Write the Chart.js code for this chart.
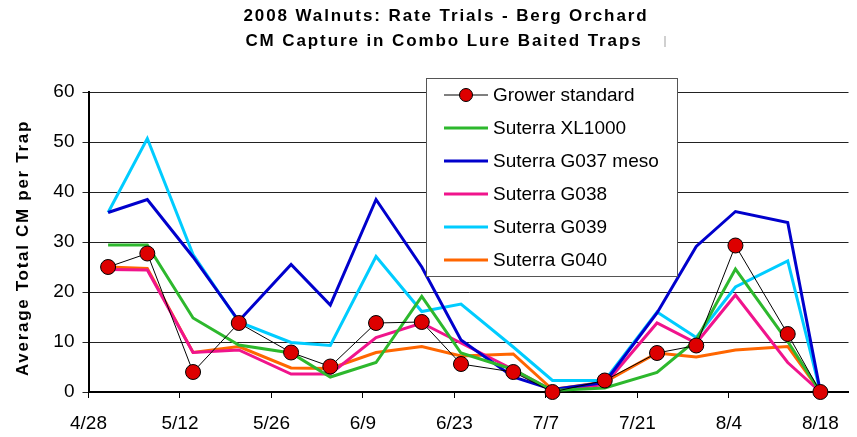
<!DOCTYPE html>
<html>
<head>
<meta charset="utf-8">
<script src="https://cdn.jsdelivr.net/npm/chart.js@4"></script>
<style>
  html, body { margin: 0; padding: 0; background: #fff; }
  #wrap { width: 857px; height: 437px; }
</style>
</head>
<body>
<div id="wrap"><canvas id="chart"></canvas></div>
<script>
// Sample dates and trap counts
const dates = ["5/1", "5/7", "5/14", "5/21", "5/29", "6/4", "6/11", "6/18", "6/24", "7/2", "7/8", "7/16", "7/24", "7/30", "8/5", "8/13", "8/18"];
const grower = [25, 27.7, 4, 13.8, 7.9, 5.1, 13.8, 14, 5.6, 4, 0, 2.3, 7.8, 9.3, 29.3, 11.6, 0];
const xl1000 = [29.4, 29.4, 14.8, 9.4, 7.8, 3, 5.9, 19.1, 7.8, 4.5, 0.3, 0.8, 3.9, 10.4, 24.6, 10.1, 0];
const g037 = [35.9, 38.5, 27, 14.2, 25.5, 17.4, 38.5, 25, 10.4, 3, 0.5, 1.9, 15.8, 29.1, 36.1, 33.9, 0];
const g038 = [24.5, 24.4, 7.9, 8.4, 3.6, 3.6, 10.9, 13.8, 9.8, 4.5, 0.3, 1.5, 13.8, 9.8, 19.4, 5.9, 0];
const g039 = [35.9, 50.7, 27.5, 14, 9.9, 9.3, 27.1, 16.1, 17.6, 9, 2.3, 2.3, 16, 10.9, 21, 26.2, 0];
const g040 = [25, 24.7, 7.9, 9.1, 4.8, 4.7, 7.9, 9.1, 7.2, 7.6, 0.5, 2, 7.8, 7, 8.4, 9.1, 0];
const yTicks = [0, 10, 20, 30, 40, 50, 60];

// days since 4/28/2008
const start = new Date(2008, 3, 28);
const toDay = s => {
  const [m, d] = s.split("/").map(Number);
  return Math.round((new Date(2008, m - 1, d) - start) / 86400000);
};
const days = dates.map(toDay);
const pts = arr => arr.map((v, i) => ({ x: days[i], y: v }));

const line = (label, data, color) => ({
  label, data: pts(data), borderColor: color, backgroundColor: color,
  borderWidth: 3, pointRadius: 0, pointHoverRadius: 0, tension: 0, clip: false
});

// Title, axis title and boxed legend
const decor = {
  id: "decor",
  afterDraw(chart) {
    const ctx = chart.ctx;
    ctx.save();
    ctx.fillStyle = "#000";
    ctx.textAlign = "center";
    ctx.textBaseline = "alphabetic";
    ctx.font = "bold 17px 'Liberation Sans', Arial, sans-serif";
    ctx.letterSpacing = "1.9px";
    ctx.fillText("2008 Walnuts: Rate Trials - Berg Orchard", 446, 21);
    ctx.fillText("CM Capture in Combo Lure Baited Traps", 444, 45.5);
    ctx.fillStyle = "#d0d0d0";
    ctx.fillRect(664, 36, 2, 11);

    ctx.fillStyle = "#000";
    ctx.translate(23, 248);
    ctx.rotate(-Math.PI / 2);
    ctx.textBaseline = "middle";
    ctx.font = "bold 17px 'Liberation Sans', Arial, sans-serif";
    ctx.letterSpacing = "1.7px";
    ctx.fillText("Average Total CM per Trap", 0, 0);
    ctx.restore();

    // legend
    ctx.save();
    const bx = 426.5, by = 78.5, bw = 251, bh = 198;
    ctx.fillStyle = "#fff";
    ctx.fillRect(bx, by, bw, bh);
    ctx.strokeStyle = "#555";
    ctx.lineWidth = 1;
    ctx.strokeRect(bx, by, bw, bh);
    ctx.font = "19px 'Liberation Sans', Arial, sans-serif";
    ctx.textBaseline = "middle";
    ctx.textAlign = "left";
    chart.data.datasets.forEach((ds, i) => {
      const y = 95 + i * 33;
      ctx.strokeStyle = ds.borderColor;
      ctx.lineWidth = ds.borderWidth;
      ctx.beginPath();
      ctx.moveTo(444, y);
      ctx.lineTo(488, y);
      ctx.stroke();
      if (ds.pointRadius > 0) {
        ctx.beginPath();
        ctx.arc(466, y, 6.5, 0, Math.PI * 2);
        ctx.fillStyle = ds.pointBackgroundColor;
        ctx.fill();
        ctx.strokeStyle = "#000";
        ctx.lineWidth = 1;
        ctx.stroke();
      }
      ctx.fillStyle = "#000";
      ctx.fillText(ds.label, 493, y + 1);
    });
    ctx.restore();
  }
};

new Chart(document.getElementById("chart"), {
  type: "line",
  data: {
    datasets: [
      {
        label: "Grower standard", data: pts(grower), borderColor: "#000", borderWidth: 1,
        pointRadius: 7.5, pointHoverRadius: 7.5, pointBackgroundColor: "#dd0000",
        pointBorderColor: "#000", pointBorderWidth: 1, tension: 0, clip: false
      },
      line("Suterra XL1000", xl1000, "#2db82d"),
      line("Suterra G037 meso", g037, "#0000cc"),
      line("Suterra G038", g038, "#f0148c"),
      line("Suterra G039", g039, "#00ccff"),
      line("Suterra G040", g040, "#ff6600")
    ]
  },
  options: {
    responsive: true,
    maintainAspectRatio: false,
    animation: false,
    layout: { padding: { top: 92, right: 0, left: 0, bottom: 0 } },
    plugins: { legend: { display: false }, title: { display: false }, tooltip: { enabled: false } },
    scales: {
      x: {
        type: "linear",
        min: 0,
        max: 116.3,
        afterFit: s => { s.height = 45; },
        border: { color: "#000", width: 2 },
        grid: { drawOnChartArea: false, drawTicks: true, tickLength: 6, color: "#000" },
        ticks: {
          stepSize: 14, includeBounds: false, autoSkip: false, maxRotation: 0,
          padding: 14, color: "#000",
          font: { family: "'Liberation Sans', Arial, sans-serif", size: 19 },
          callback: v => {
            const dt = new Date(2008, 3, 28 + v);
            return (dt.getMonth() + 1) + "/" + dt.getDate();
          }
        }
      },
      y: {
        min: 0,
        max: 60,
        afterFit: s => { s.width = 88.5; },
        afterBuildTicks: s => { s.ticks = yTicks.map(v => ({ value: v })); },
        border: { color: "#000", width: 2 },
        grid: { color: "#222", lineWidth: 1, tickLength: 6, drawTicks: true },
        ticks: {
          padding: 8, color: "#000",
          font: { family: "'Liberation Sans', Arial, sans-serif", size: 19 }
        }
      }
    }
  },
  plugins: [decor]
});
</script>
</body>
</html>
